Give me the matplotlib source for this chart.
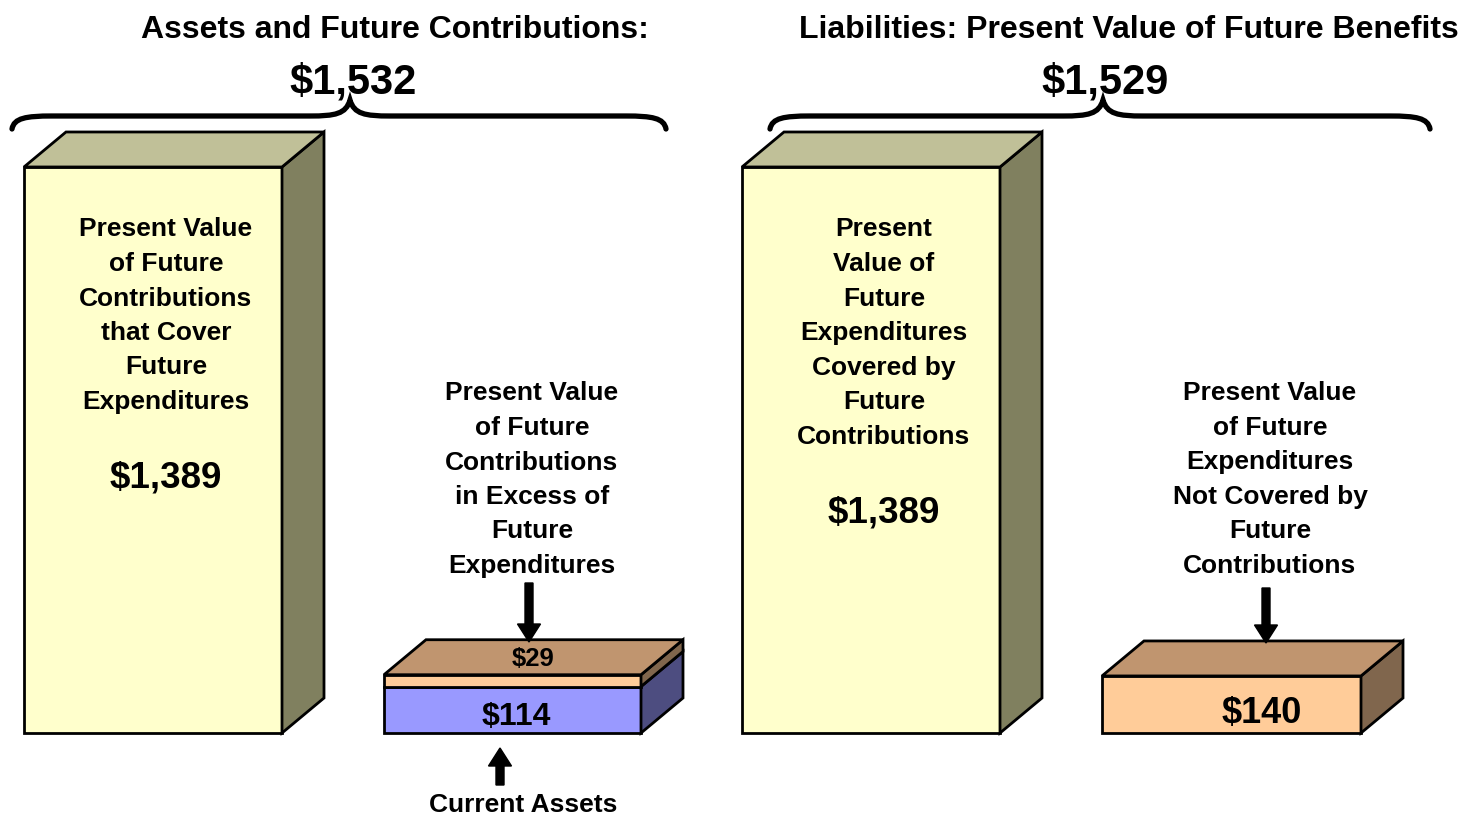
import matplotlib
matplotlib.use('Agg')
import matplotlib.pyplot as plt
from matplotlib.patches import Polygon, PathPatch, FancyArrow
from matplotlib.path import Path

plt.rcParams['font.family'] = ['Liberation Sans', 'DejaVu Sans']

# values (present value, $ billions)
asset_values = [1389, 114, 29]        # future contrib. covering exp., current assets, excess contrib.
liability_values = [1389, 140]       # covered expenditures, uncovered expenditures
asset_title = 'Assets and Future Contributions:'
liability_title = 'Liabilities: Present Value of Future Benefits'
big_left_lines = ['Present Value', 'of Future', 'Contributions', 'that Cover', 'Future', 'Expenditures']
excess_lines = ['Present Value', 'of Future', 'Contributions', 'in Excess of', 'Future', 'Expenditures']
big_right_lines = ['Present', 'Value of', 'Future', 'Expenditures', 'Covered by', 'Future', 'Contributions']
uncovered_lines = ['Present Value', 'of Future', 'Expenditures', 'Not Covered by', 'Future', 'Contributions']

W, H = 1465, 815
BASE = 733          # pixel row of the bars' base
PX_PER_UNIT = 0.4075
DX, DY = 42, 35 / PX_PER_UNIT

fig = plt.figure(figsize=(W / 100, H / 100), dpi=100)
ax = fig.add_axes([0, 0, 1, 1])
ax.set_xlim(0, W)
ax.set_ylim(-(H - BASE) / PX_PER_UNIT, BASE / PX_PER_UNIT)
ax.axis('off')
ann = fig.add_axes([0, 0, 1, 1])
ann.set_xlim(0, W)
ann.set_ylim(H, 0)
ann.axis('off')
ann.patch.set_alpha(0)


def box(x0, w, bottom, h, front, top, side, draw_top=True):
    t = bottom + h
    ax.add_patch(Polygon([(x0, bottom), (x0 + w, bottom), (x0 + w, t), (x0, t)],
                         fc=front, ec='black', lw=2, joinstyle='miter'))
    ax.add_patch(Polygon([(x0 + w, bottom), (x0 + w + DX, bottom + DY), (x0 + w + DX, t + DY), (x0 + w, t)],
                         fc=side, ec='black', lw=2, joinstyle='miter'))
    if draw_top:
        ax.add_patch(Polygon([(x0, t), (x0 + DX, t + DY), (x0 + w + DX, t + DY), (x0 + w, t)],
                             fc=top, ec='black', lw=2, joinstyle='miter'))


yel = ('#FFFFCC', '#C0C098', '#80805F')
blue = ('#9999FF', '#9999FF', '#4D4D80')
orng = ('#FFCC99', '#C0956F', '#80664D')

box(24, 258, 0, asset_values[0], *yel)
box(384, 257, 0, asset_values[1], *blue, draw_top=False)
box(384, 257, asset_values[1], asset_values[2], *orng)
box(742, 258, 0, liability_values[0], *yel)
box(1102, 259, 0, liability_values[1], *orng)


def txt(x, y, s, size):
    # y is the visual centre of the capitals, in pixels
    ann.text(x, y + size * 0.5, s, fontsize=size, fontweight='bold', ha='center', va='baseline')


def block(x, y0, lines, size=19, step=34.5):
    for i, s in enumerate(lines):
        txt(x, y0 + i * step, s, size)


def money(v):
    return '${:,}'.format(v)


txt(395, 27, asset_title, 23)
txt(353, 79, money(sum(asset_values)), 30)
txt(1129, 27, liability_title, 23)
txt(1105, 79, money(sum(liability_values)), 30)

block(166, 227, big_left_lines)
txt(166, 474, money(asset_values[0]), 26.5)
block(532, 391, excess_lines)
txt(533, 657, money(asset_values[2]), 18.5)
txt(516, 713, money(asset_values[1]), 23)
txt(523, 802, 'Current Assets', 19)
block(884, 227, big_right_lines)
txt(884, 509, money(liability_values[0]), 26.5)
block(1270, 391, uncovered_lines)
txt(1262, 710, money(liability_values[1]), 26)


def brace(xl, xm, xr, yl=116, tip=100, end=129):
    verts = [(xl, end), (xl + 2, yl + 2), (xl + 14, yl), (xl + 40, yl),
             (xm - 40, yl), (xm - 15, yl), (xm - 4, yl - 2), (xm, tip),
             (xm + 4, yl - 2), (xm + 15, yl), (xm + 40, yl),
             (xr - 40, yl), (xr - 14, yl), (xr - 2, yl + 2), (xr, end)]
    codes = [Path.MOVETO, Path.CURVE4, Path.CURVE4, Path.CURVE4,
             Path.LINETO, Path.CURVE4, Path.CURVE4, Path.CURVE4,
             Path.CURVE4, Path.CURVE4, Path.CURVE4,
             Path.LINETO, Path.CURVE4, Path.CURVE4, Path.CURVE4]
    ann.add_patch(PathPatch(Path(verts, codes), fc='none', ec='black', lw=3.8, capstyle='round'))


brace(12, 350, 666)
brace(770, 1103, 1430)


def arrow(x, y0, y1):
    ann.add_patch(FancyArrow(x, y0, 0, y1 - y0, width=8, head_width=23, head_length=18,
                             length_includes_head=True, color='black'))


arrow(529, 583, 642)
arrow(500, 785, 748)
arrow(1266, 588, 643)

fig.savefig('out.png', dpi=100)
